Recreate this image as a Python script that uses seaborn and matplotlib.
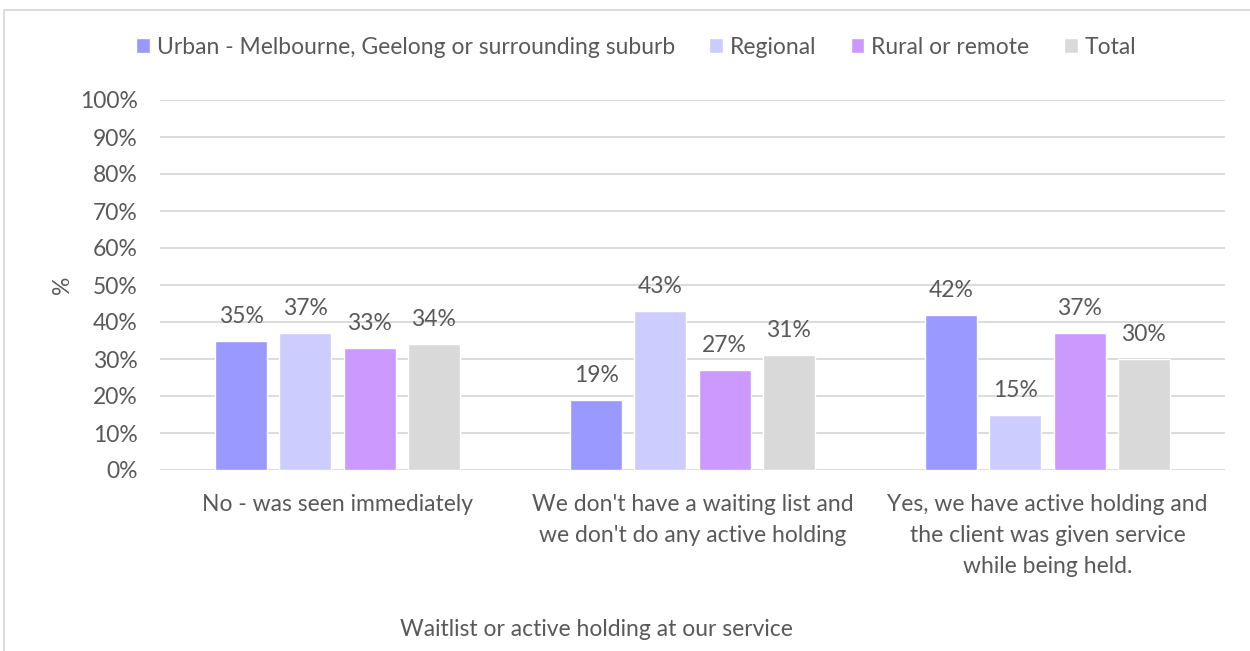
import numpy as np
import pandas as pd
import matplotlib.pyplot as plt
import seaborn as sns
from matplotlib.patches import Rectangle
from matplotlib.ticker import PercentFormatter

# Data
categories = [
    "No - was seen immediately",
    "We don't have a waiting list and\nwe don't do any active holding",
    "Yes, we have active holding and\nthe client was given service\nwhile being held.",
]
regions = [
    "Urban - Melbourne, Geelong or surrounding suburb",
    "Regional",
    "Rural or remote",
    "Total",
]
urban = [35, 19, 42]
regional = [37, 43, 15]
rural = [33, 27, 37]
total = [34, 31, 30]

colors = ["#9999FF", "#CCCCFF", "#CC99FF", "#D9D9D9"]
text_color = "#595959"
grid_color = "#D9D9D9"

# Long-form table for seaborn
df = pd.DataFrame({
    "Category": categories * 4,
    "Region": np.repeat(regions, len(categories)),
    "Value": urban + regional + rural + total,
})

sns.set_theme(style="white")
plt.rcParams['font.family'] = ['Lato', 'DejaVu Sans']
fs = 16.5

fig = plt.figure(figsize=(12.5, 6.51), dpi=100)
ax = fig.add_axes([160 / 1250, 1 - 470 / 651, 1065 / 1250, 370 / 651])

sns.barplot(data=df, x="Category", y="Value", hue="Region",
            order=categories, hue_order=regions, palette=colors,
            width=0.724, gap=0.19, saturation=1, ax=ax, legend=True)

# Data labels
for cont in ax.containers:
    ax.bar_label(cont, fmt="%.0f%%", padding=10, fontsize=fs, color=text_color)

ax.set_xlim(-0.5, 2.5)
ax.set_ylim(0, 100)
ax.set_yticks(np.arange(0, 101, 10))
ax.yaxis.set_major_formatter(PercentFormatter(decimals=0))
ax.grid(axis="y", color=grid_color, linewidth=1.3)
ax.set_axisbelow(True)
for s in ax.spines.values():
    s.set_visible(False)
ax.tick_params(axis="both", length=0, labelsize=fs, labelcolor=text_color)
ax.tick_params(axis="y", pad=16)
ax.tick_params(axis="x", pad=17)
for lab in ax.get_xticklabels():
    lab.set_linespacing(1.6)
ax.set_xlabel("")
ax.set_ylabel("")

# Axis titles
fig.text(62 / 1250, 1 - 285 / 651, "%", rotation=90, ha="center", va="center",
         fontsize=fs, color=text_color)
fig.text(596 / 1250, 1 - 630 / 651, "Waitlist or active holding at our service",
         ha="center", va="center", fontsize=fs, color=text_color)

# Legend on top
handles, labels = ax.get_legend_handles_labels()
ax.legend_.remove()
fig.legend(handles, labels, loc="center", bbox_to_anchor=(636 / 1250, 1 - 47 / 651),
           ncol=4, frameon=False, fontsize=fs, labelcolor=text_color,
           handlelength=0.6, handleheight=0.6, handletextpad=0.3,
           columnspacing=1.5, borderaxespad=0)

# Chart border
fig.patches.append(Rectangle((4 / 1250, -0.1), 1.2, 1.1 - 10 / 651,
                             transform=fig.transFigure, fill=False,
                             edgecolor=grid_color, linewidth=1.3))

fig.savefig("out.png", dpi=100)
